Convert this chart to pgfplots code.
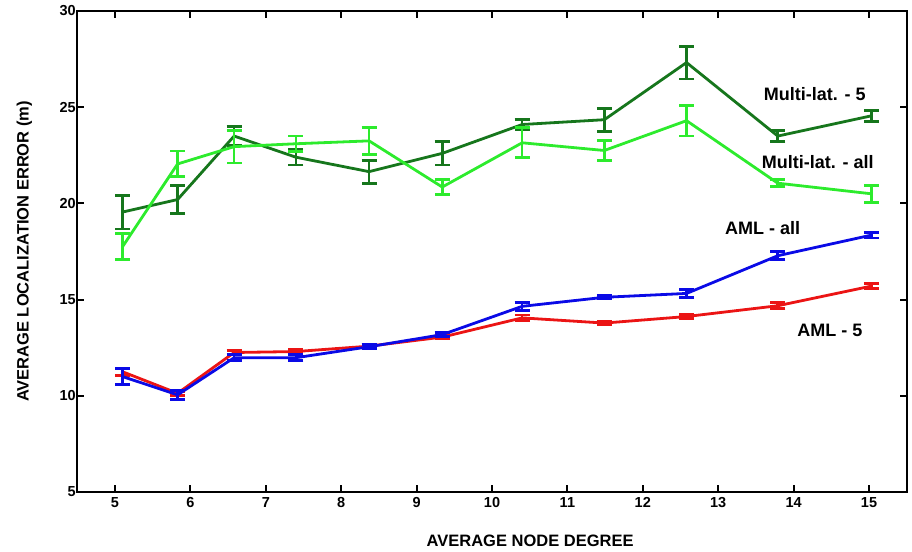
\documentclass[border=0pt]{standalone}
\usepackage{fontspec}
\setmainfont{Liberation Sans}
\usepackage{pgfplots}
\pgfplotsset{compat=1.18}
\usepackage{pgfplotstable}
\definecolor{dkgreen}{RGB}{22,118,28}
\definecolor{ltgreen}{RGB}{45,235,45}
\definecolor{myblue}{RGB}{10,10,230}
\definecolor{myred}{RGB}{235,20,20}
\pgfplotstableread{
x y e
5.10 19.55 0.88
5.83 20.20 0.72
6.58 23.50 0.50
7.40 22.40 0.40
8.37 21.65 0.60
9.34 22.60 0.60
10.40 24.10 0.26
11.49 24.35 0.60
12.58 27.32 0.85
13.79 23.50 0.30
15.03 24.55 0.28
}\mlfive
\pgfplotstableread{
x y e
5.10 17.75 0.67
5.83 22.05 0.67
6.58 22.95 0.85
7.40 23.10 0.40
8.37 23.25 0.70
9.34 20.85 0.40
10.40 23.15 0.78
11.49 22.75 0.50
12.58 24.30 0.80
13.79 21.05 0.18
15.03 20.50 0.45
}\mlall
\pgfplotstableread{
x y e
5.10 11.00 0.40
5.83 10.05 0.23
6.58 11.98 0.15
7.40 11.98 0.15
8.37 12.55 0.10
9.34 13.18 0.10
10.40 14.65 0.20
11.49 15.12 0.08
12.58 15.32 0.20
13.79 17.28 0.20
15.03 18.35 0.15
}\amlall
\pgfplotstableread{
x y e
5.10 11.25 0.18
5.83 10.13 0.10
6.58 12.25 0.12
7.40 12.30 0.10
8.37 12.58 0.10
9.34 13.05 0.10
10.40 14.05 0.15
11.49 13.78 0.10
12.58 14.12 0.12
13.79 14.68 0.15
15.03 15.70 0.12
}\amlfive
\begin{document}
\begin{tikzpicture}
\begin{axis}[
  scale only axis,
  width=829.4pt, height=481pt,
  xmin=4.5, xmax=15.5, ymin=5, ymax=30,
  xtick={5,...,15}, ytick={5,10,...,30},
  axis line style={line width=2pt},
  major tick style={line width=2pt, black},
  major tick length=7pt,
  tick align=inside,
  ticklabel style={font=\fontsize{14.5}{16}\selectfont\bfseries},
  /pgf/number format/assume math mode=true,
  xticklabel style={yshift=-2pt},
  yticklabel style={xshift=2pt},
  xlabel={AVERAGE NODE DEGREE},
  ylabel={AVERAGE LOCALIZATION ERROR (m)},
  label style={font=\fontsize{16.5}{18}\selectfont\bfseries},
  xlabel style={at={(axis description cs:0.546,-0.102)}, anchor=center},
  ylabel style={at={(axis description cs:-0.0639,0.5)}, anchor=center},
  every axis plot/.append style={line width=2.8pt, mark=none},
  error bars/y dir=both, error bars/y explicit,
  error bars/error bar style={line width=2.6pt},
]
\addplot[dkgreen, error bars/error mark options={rotate=90, mark size=7.5pt, line width=2.8pt, dkgreen}] table[x=x, y=y, y error=e] {\mlfive};
\addplot[ltgreen, error bars/error mark options={rotate=90, mark size=7.5pt, line width=2.8pt, ltgreen}] table[x=x, y=y, y error=e] {\mlall};
\addplot[myred, error bars/error mark options={rotate=90, mark size=7.5pt, line width=2.8pt, myred}] table[x=x, y=y, y error=e] {\amlfive};
\addplot[myblue, error bars/error mark options={rotate=90, mark size=7.5pt, line width=2.8pt, myblue}] table[x=x, y=y, y error=e] {\amlall};
\node[font=\fontsize{18}{20}\selectfont\bfseries] at (axis cs:14.28,25.69) {Multi-lat. - 5};
\node[font=\fontsize{18}{20}\selectfont\bfseries] at (axis cs:14.32,22.17) {Multi-lat. - all};
\node[font=\fontsize{18}{20}\selectfont\bfseries] at (axis cs:13.59,18.72) {AML - all};
\node[font=\fontsize{18}{20}\selectfont\bfseries] at (axis cs:14.48,13.40) {AML - 5};
\end{axis}
\pgfresetboundingbox
\path ([xshift=-77.3pt,yshift=-59pt]current axis.south west) rectangle ([xshift=5.3pt,yshift=11pt]current axis.north east);
\end{tikzpicture}
\end{document}
